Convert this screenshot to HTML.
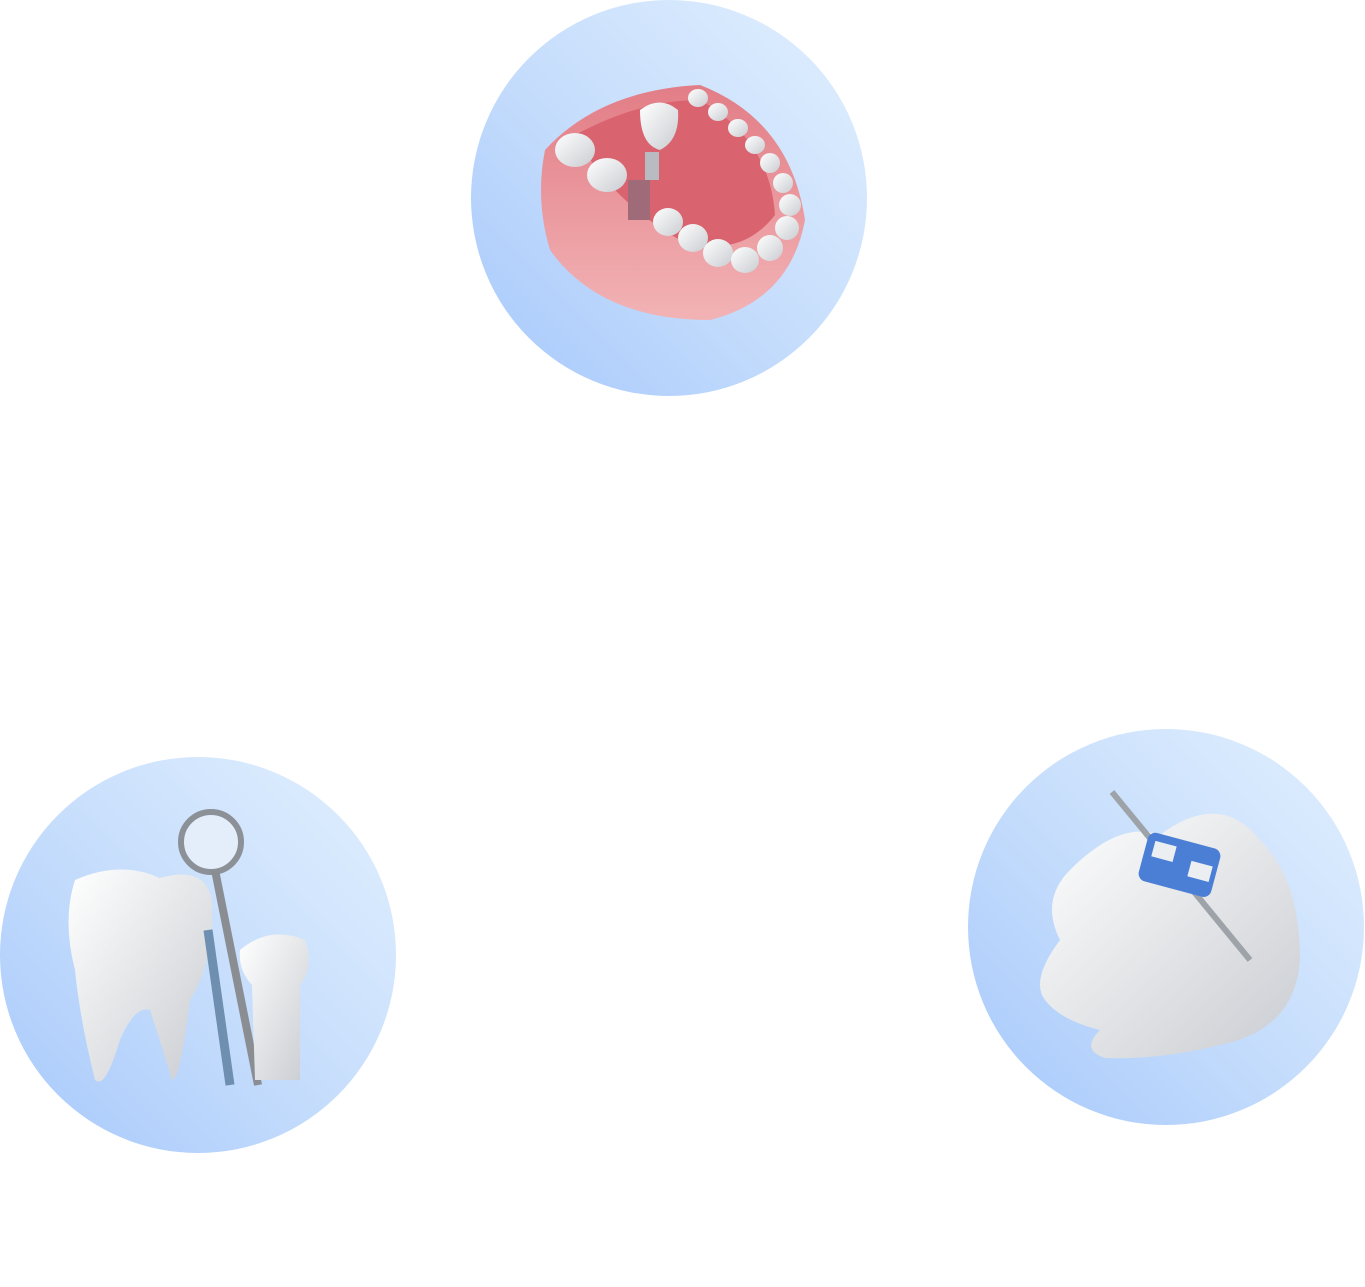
<!DOCTYPE html>
<html><head><meta charset="utf-8"><style>
html,body{margin:0;padding:0;background:#fff;width:1365px;height:1287px;overflow:hidden;position:relative}
.c{position:absolute;width:396px;height:396px;border-radius:50%;background:linear-gradient(45deg,#a6c8fb 0%,#c4dcfc 45%,#e2f0fe 100%)}
svg{position:absolute;left:0;top:0}
</style></head><body>
<div class="c" style="left:471px;top:0px"></div>
<div class="c" style="left:0px;top:757px"></div>
<div class="c" style="left:968px;top:729px"></div>
<svg width="1365" height="1287">
<defs>
<linearGradient id="tooth" x1="0" y1="0" x2="1" y2="1"><stop offset="0" stop-color="#fff"/><stop offset="1" stop-color="#c9ccd1"/></linearGradient>
<linearGradient id="gum" x1="0" y1="0" x2="0" y2="1"><stop offset="0" stop-color="#e27d86"/><stop offset="1" stop-color="#f2b3b5"/></linearGradient>
</defs>
<!-- jaw -->
<path d="M545 150 Q600 90 700 85 Q790 120 805 220 Q790 300 710 320 Q600 320 550 250 Q535 200 545 150Z" fill="url(#gum)"/>
<path d="M575 135 Q640 100 700 100 Q770 140 775 215 Q740 260 680 240 Q610 200 575 135Z" fill="#d9636e"/>
<g fill="url(#tooth)">
<ellipse cx="575" cy="150" rx="20" ry="17"/><ellipse cx="607" cy="175" rx="20" ry="17"/>
<ellipse cx="668" cy="222" rx="15" ry="14"/><ellipse cx="693" cy="238" rx="15" ry="14"/><ellipse cx="718" cy="253" rx="15" ry="14"/><ellipse cx="745" cy="260" rx="14" ry="13"/><ellipse cx="770" cy="248" rx="13" ry="13"/><ellipse cx="787" cy="228" rx="12" ry="12"/><ellipse cx="790" cy="205" rx="11" ry="11"/><ellipse cx="783" cy="183" rx="10" ry="10"/><ellipse cx="770" cy="163" rx="10" ry="10"/><ellipse cx="755" cy="145" rx="10" ry="9"/><ellipse cx="738" cy="128" rx="10" ry="9"/><ellipse cx="718" cy="112" rx="10" ry="9"/><ellipse cx="698" cy="98" rx="10" ry="9"/>
<path d="M640 110 Q660 95 678 110 Q680 140 660 150 Q640 145 640 110Z"/>
</g>
<rect x="645" y="152" width="14" height="28" fill="#b8bcc2"/><rect x="628" y="180" width="22" height="40" fill="#a06b78"/>
<!-- left tooth tools -->
<path d="M75 880 Q120 860 160 878 Q205 865 212 900 Q215 960 190 1000 Q180 1080 172 1080 Q160 1040 150 1010 Q135 1005 120 1040 Q105 1090 95 1080 Q80 1020 75 970 Q62 920 75 880Z" fill="url(#tooth)"/>
<circle cx="211" cy="842" r="30" fill="#e4eefb" stroke="#8c9097" stroke-width="6"/>
<path d="M215 870 L258 1085" stroke="#8a8d92" stroke-width="8"/>
<path d="M208 930 L230 1085" stroke="#6f8fb0" stroke-width="9"/>
<path d="M240 950 Q270 925 305 940 Q315 965 300 985 L300 1080 L255 1080 L252 985 Q238 970 240 950Z" fill="url(#tooth)"/>
<!-- right tooth -->
<path d="M1070 870 Q1120 820 1160 835 Q1220 790 1260 840 Q1300 880 1300 960 Q1295 1030 1220 1045 Q1160 1060 1105 1058 Q1080 1050 1100 1030 Q1060 1020 1045 1000 Q1030 980 1060 940 Q1040 900 1070 870Z" fill="url(#tooth)"/>
<path d="M1112 792 L1250 960" stroke="#9ea3a9" stroke-width="6"/>
<rect x="1142" y="840" width="75" height="50" rx="8" fill="#4b7fd6" transform="rotate(15 1180 865)"/>
<rect x="1150" y="848" width="22" height="16" fill="#eceff2" transform="rotate(15 1180 865)"/>
<rect x="1190" y="858" width="22" height="16" fill="#eceff2" transform="rotate(15 1180 865)"/>
</svg>
</body></html>
